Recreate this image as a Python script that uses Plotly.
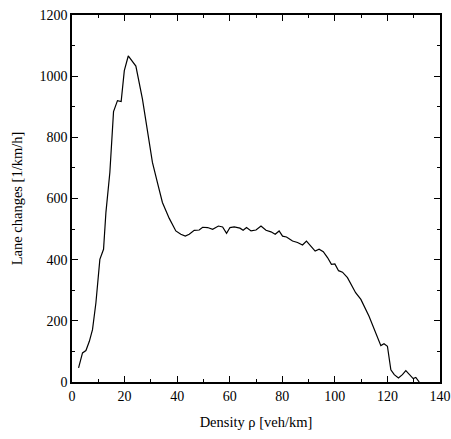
import plotly.graph_objects as go

density = [2.5, 4.0, 5.3, 6.6, 7.8, 9.1, 10.6, 12.0, 12.9, 14.4, 15.8, 17.3, 18.7, 19.9,
           21.4, 22.8, 24.3, 26.8, 28.7, 30.6, 32.5, 34.4, 37.0, 39.5, 41.4, 43.1, 44.6,
           46.5, 48.4, 49.7, 51.6, 53.5, 55.7, 57.3, 58.8, 60.1, 61.7, 63.9, 65.1, 66.4,
           68.1, 70.0, 71.9, 73.8, 75.7, 77.3, 78.8, 80.1, 81.6, 83.9, 85.8, 87.7, 89.2,
           90.9, 92.5, 94.0, 95.6, 97.2, 98.7, 100.0, 101.4, 102.9, 104.8, 107.9, 109.9,
           113.0, 115.6, 117.5, 118.7, 120.0, 121.3, 122.6, 124.2, 125.7, 127.0, 128.5,
           129.8, 130.8, 132.1]
lane_changes = [46, 95, 103, 133, 171, 259, 401, 434, 554, 685, 884, 920, 917, 1018,
                1066, 1051, 1033, 925, 827, 718, 652, 587, 535, 494, 483, 477, 483,
                496, 497, 506, 505, 499, 510, 507, 486, 505, 507, 503, 496, 505,
                494, 497, 510, 496, 491, 483, 494, 477, 474, 461, 456, 448, 461,
                445, 428, 434, 426, 407, 385, 386, 364, 359, 341, 292, 270,
                215, 161, 119, 125, 117, 40, 24, 13, 24, 37, 24,
                11, 15, 0]

x_ticks = [0, 20, 40, 60, 80, 100, 120, 140]
y_ticks = [0, 200, 400, 600, 800, 1000, 1200]

font_family = "Liberation Serif, Times New Roman, serif"

fig = go.Figure()
fig.add_trace(go.Scatter(x=density, y=lane_changes, mode="lines",
                         line=dict(color="black", width=1.2), showlegend=False,
                         hoverinfo="skip"))

axis_common = dict(
    showgrid=False, zeroline=False, showline=True, linecolor="black", linewidth=1.5,
    mirror="allticks", ticks="inside", ticklen=6, tickwidth=1, tickcolor="black",
    tickfont=dict(family=font_family, size=14, color="black"),
    ticklabeloverflow="allow",
)

fig.update_xaxes(range=[0, 140], tickvals=x_ticks, ticktext=[str(v) for v in x_ticks],
                 minor=dict(dtick=10, ticks="inside", ticklen=3, tickcolor="black", tickwidth=1, showgrid=False),
                 title=dict(text="Density ρ [veh/km]", font=dict(family=font_family, size=14.5, color="black"), standoff=14),
                 **axis_common)
fig.update_yaxes(range=[0, 1200], tickvals=y_ticks, ticktext=[str(v) for v in y_ticks],
                 minor=dict(dtick=100, ticks="inside", ticklen=3, tickcolor="black", tickwidth=1, showgrid=False),
                 title=dict(text="Lane changes [1/km/h]", font=dict(family=font_family, size=14.5, color="black"), standoff=13),
                 **axis_common)

fig.update_layout(width=451, height=439, margin=dict(l=72, r=11, t=15, b=57, autoexpand=False),
                  plot_bgcolor="white", paper_bgcolor="white",
                  font=dict(family=font_family, color="black"))

fig.write_html("out.html", config={"displayModeBar": False},
               post_script="document.body.style.margin='0';document.body.style.overflow='hidden';")
